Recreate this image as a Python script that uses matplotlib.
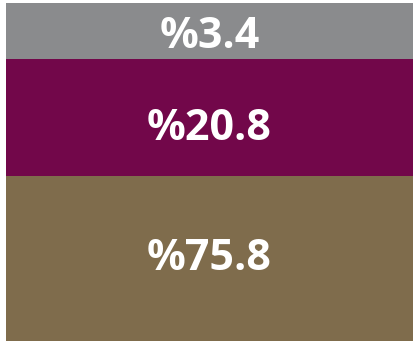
import numpy as np
import matplotlib.pyplot as plt

# segment shares, top to bottom
labels = ["%3.4", "%20.8", "%75.8"]
values = [3.4, 20.8, 75.8]
colors = ["#8a8b8d", "#72074a", "#7f6c4c"]

# small vertical nudges for the labels, in points
label_dy = [0, -4, 4]

plt.rcParams["font.family"] = ["Open Sans", "DejaVu Sans"]

# segment heights on a log1p scale so small shares stay readable
heights = np.log1p(values)
tops = np.cumsum(heights)
bottoms = tops - heights

fig = plt.figure(figsize=(4.14, 3.42), dpi=100)
ax = fig.add_axes([6 / 414, 1 / 342, 407 / 414, 338 / 342])

ax.bar([0], heights, bottom=bottoms, width=1.0, color=colors, linewidth=0)

for lab, b, h, dy in zip(labels, bottoms, heights, label_dy):
    ax.annotate(lab, (0, b + h / 2), xytext=(0, dy), textcoords="offset points",
                ha="center", va="center_baseline",
                color="white", fontsize=31, fontweight="bold")

ax.set_xlim(-0.5, 0.5)
ax.set_ylim(tops[-1], 0)
ax.axis("off")

fig.savefig("out.png", dpi=100)
